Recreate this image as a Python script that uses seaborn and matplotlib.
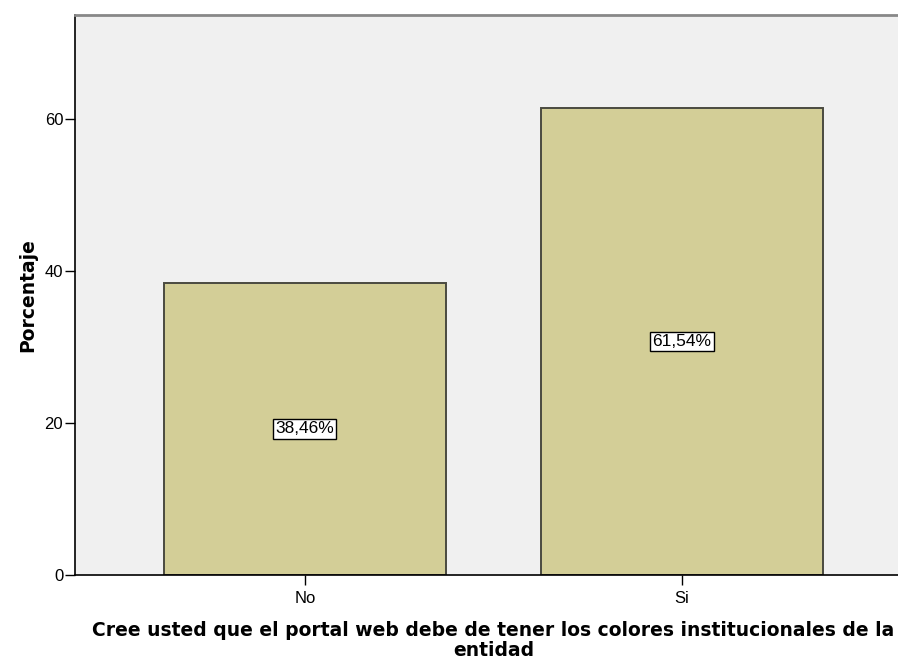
import pandas as pd
import numpy as np
import matplotlib.pyplot as plt
import seaborn as sns

categorias = ["No", "Si"]
porcentajes = [38.46, 61.54]
etiquetas = ["38,46%", "61,54%"]
y_ticks = [0, 20, 40, 60]

sns.set_style("white")
plt.rcParams['font.family'] = ['Liberation Sans', 'DejaVu Sans']

df = pd.DataFrame({"categoria": categorias, "porcentaje": porcentajes})

# the original plot area runs a bit past the right edge of the image
fig = plt.figure(figsize=(8.98, 6.61), dpi=100)
ax = fig.add_axes([0.0835, 0.130, 0.932, 0.847])
ax.set_facecolor("#F0F0F0")

sns.barplot(data=df, x="categoria", y="porcentaje", color="#D3CE97",
            saturation=1, width=0.748, edgecolor="#4a4a40", linewidth=1.4, ax=ax)

# value boxes in the middle of each bar
for i, (v, lab) in enumerate(zip(porcentajes, etiquetas)):
    ax.text(i, v / 2, lab, ha="center", va="center", fontsize=12.5, color="black",
            bbox=dict(boxstyle="square,pad=0.12", facecolor="white",
                      edgecolor="black", linewidth=1))

ax.set_xlim(-0.61, 1.61)
ax.set_ylim(0, 73.7)
ax.set_yticks(y_ticks)
ax.tick_params(axis="y", which="major", length=7, width=1, color="black",
               labelcolor="black", labelsize=12, direction="out", left=True, pad=1.5)
ax.tick_params(axis="x", which="major", length=7, width=1, color="black",
               labelcolor="black", labelsize=12, direction="out", bottom=True, pad=4.5)

for side in ["left", "bottom"]:
    ax.spines[side].set_color("black")
    ax.spines[side].set_linewidth(1.2)
ax.spines["top"].set_color("#888888")
ax.spines["top"].set_linewidth(2)
ax.spines["right"].set_visible(False)

lab_font = dict(family="DejaVu Sans", fontsize=13.5, fontweight="bold",
                color="black")
ax.set_ylabel("Porcentaje", labelpad=5, **lab_font)
ax.set_xlabel("Cree usted que el portal web debe de tener los colores institucionales de la\nentidad",
              labelpad=11, linespacing=1.05, **lab_font)

fig.savefig("out.png", dpi=100)
